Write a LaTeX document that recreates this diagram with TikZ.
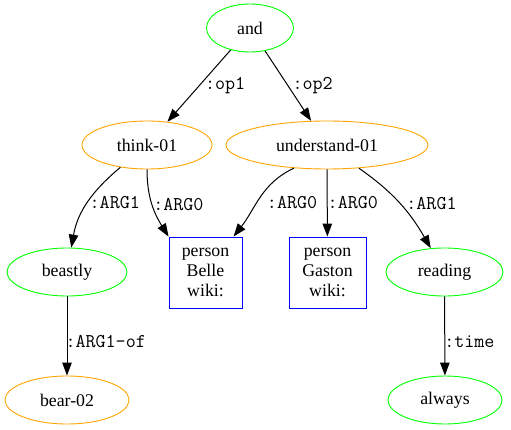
\documentclass[tikz,border=0pt]{standalone}
\usepackage{fontspec}
\setmainfont{Liberation Serif}
\usetikzlibrary{arrows.meta,shapes.geometric}
\definecolor{amrgreen}{RGB}{0,255,0}
\definecolor{amrorange}{RGB}{255,165,0}
\definecolor{amrblue}{RGB}{0,0,255}

\begin{document}
\begin{tikzpicture}[x=1pt,y=1pt,->,>={Triangle[length=13pt,width=9.5pt]},line width=1pt,
                    every node/.style={font=\fontsize{17.8}{20}\selectfont},
                    pred/.style={ellipse,draw=amrorange,line width=0.9pt,minimum height=48pt,inner sep=0pt},
                    term/.style={ellipse,draw=amrgreen,line width=0.9pt,minimum height=48pt,inner sep=0pt},
                    ent/.style={rectangle,draw=amrblue,line width=0.9pt,minimum height=71pt,align=center,inner sep=0pt},
                    role/.style={font=\ttfamily\fontsize{19.5}{20}\selectfont,anchor=west,inner sep=0pt}]

  \useasboundingbox (0,0) rectangle (511,429);

  \node[term, minimum width=87pt]  (and)        at (250,401)     {and};
  \node[pred, minimum width=130pt] (think)      at (147,284)     {think-01};
  \node[pred, minimum width=202pt] (understand) at (327,284)     {understand-01};
  \node[term, minimum width=120pt] (beastly)    at (67,157)      {beastly};
  \node[ent,  minimum width=73pt]  (belle)      at (205.5,156.5) {person\\Belle\\wiki:};
  \node[ent,  minimum width=77pt]  (gaston)     at (327.5,156.5) {person\\Gaston\\wiki:};
  \node[term, minimum width=117pt] (reading)    at (444.5,157)   {reading};
  \node[pred, minimum width=124pt] (bear)       at (67,29)       {bear-02};
  \node[term, minimum width=114pt] (always)     at (445,29)      {always};

  \path (and) edge                   node[role,xshift=5.5pt]        {:op1}    (think)
              edge                   node[role,xshift=4pt]          {:op2}    (understand)
        (think) edge [out=220,in=80]  node[role,xshift=1.5pt]       {:ARG1}   (beastly)
                edge [out=-90,in=122] node[role,xshift=0.5pt]       {:ARG0}   (belle.north west)
        (understand.215) edge [out=205,in=52] node[role,pos=.57,xshift=10pt] {:ARG0} (belle)
        (understand) edge            node[role]                     {:ARG0}   (gaston)
        (understand.-36) edge [out=-35,in=120] node[role,xshift=6pt] {:ARG1} (reading)
        (beastly) edge               node[role,pos=.57,xshift=-2pt] {:ARG1-of} (bear)
        (reading) edge               node[role,pos=.57,xshift=-1pt] {:time}   (always);
\end{tikzpicture}
\end{document}
